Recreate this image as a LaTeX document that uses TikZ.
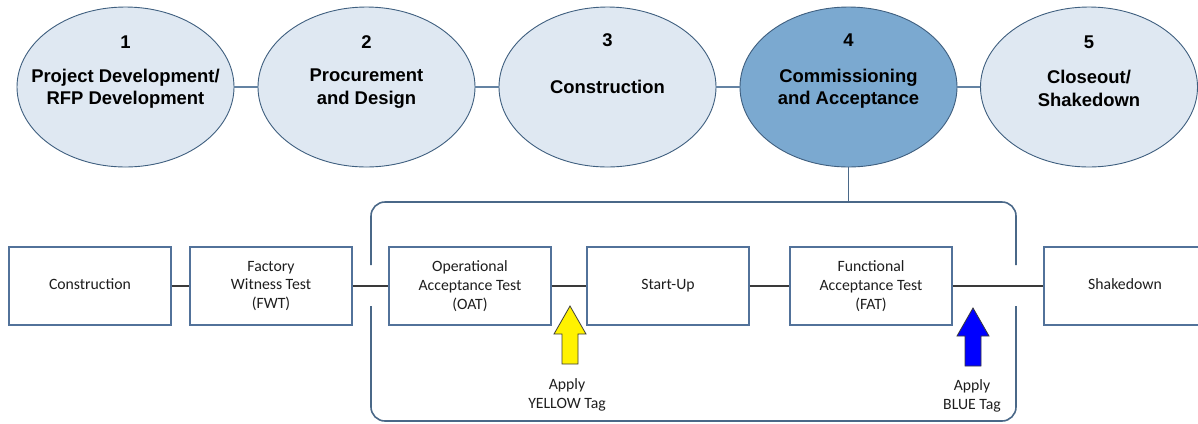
\documentclass[tikz,border=0pt]{standalone}
\usepackage{fontspec}
\setmainfont{Liberation Sans}
\newfontfamily\boxfont{Carlito}
\usetikzlibrary{shapes.geometric}

\definecolor{phasefill}{HTML}{DFE8F2}
\definecolor{activefill}{HTML}{7BA9D0}
\definecolor{phaseedge}{HTML}{3F5F7F}
\definecolor{phaselink}{HTML}{6483A3}
\definecolor{boxedge}{HTML}{52729A}
\definecolor{framecol}{HTML}{4A6888}
\definecolor{linkcol}{HTML}{3A3A3A}
\definecolor{boxtext}{HTML}{1E1E1E}

\tikzset{
  phase/.style={ellipse, draw=phaseedge, line width=0.9bp, fill=phasefill,
                minimum width=217bp, minimum height=160bp, inner sep=0pt},
  active/.style={phase, fill=activefill},
  phasenum/.style={font=\fontsize{18.5}{22}\selectfont\bfseries, inner sep=0pt},
  phasetitle/.style={font=\fontsize{18.5}{22.5}\selectfont\bfseries, align=center, inner sep=0pt},
  phaselinkline/.style={draw=phaselink, line width=2.4bp},
  stage/.style={rectangle, draw=boxedge, line width=1.1bp, fill=white,
                minimum width=162bp, minimum height=78bp, inner sep=0pt,
                align=center, text=boxtext, font=\boxfont\fontsize{15.8}{19}\selectfont},
  stagelink/.style={draw=linkcol, line width=1.3bp},
  frameline/.style={draw=framecol, line width=1.6bp, rounded corners=14bp},
  tagarrow/.style={draw=linkcol, line width=0.8bp},
  taglabel/.style={align=center, inner sep=0pt, text=boxtext,
                   font=\boxfont\fontsize{15.8}{18.5}\selectfont}
}

\begin{document}
\begin{tikzpicture}[x=1bp, y=-1bp]
  \useasboundingbox (0,0) rectangle (1198,423);
  \clip (0,0) rectangle (1198,423);

  % project phases
  \node[phase]  (e1) at (125.5,87) {};
  \node[phase]  (e2) at (366.5,87) {};
  \node[phase]  (e3) at (607.5,87) {};
  \node[active] (e4) at (848.5,87) {};
  \node[phase]  (e5) at (1089,87) {};

  \draw[phaselinkline] (e1) -- (e2);
  \draw[phaselinkline] (e2) -- (e3);
  \draw[phaselinkline] (e3) -- (e4);
  \draw[phaselinkline] (e4) -- (e5);

  \node[phasenum] (n1) at (125.5,42) {1};
  \node[phasenum] (n2) at (366.5,42) {2};
  \node[phasenum] (n3) at (607.5,40) {3};
  \node[phasenum] (n4) at (848.5,40) {4};
  \node[phasenum] (n5) at (1089,42) {5};

  \node[phasetitle] (t1) at (125.5,88.5) {Project Development/\\RFP Development};
  \node[phasetitle] (t2) at (366.5,88.5) {Procurement\\and Design};
  \node[phasetitle] (t3) at (607.5,87) {Construction};
  \node[phasetitle] (t4) at (848.5,88.5) {Commissioning\\and Acceptance};
  \node[phasetitle] (t5) at (1089,88.5) {Closeout/\\Shakedown};

  % commissioning frame, open where the stage line passes through
  \coordinate (ftl) at (371,202);
  \coordinate (ftr) at (1016,202);
  \coordinate (fbl) at (371,421);
  \coordinate (fbr) at (1016,421);
  \draw[frameline] (371,265) -- (ftl) -- (ftr) -- (1016,265);
  \draw[frameline] (371,306) -- (fbl) -- (fbr) -- (1016,306);
  \draw[draw=framecol, line width=1.6bp] (e4.south) -- (e4.south |- ftl);

  % stages
  \node[stage] (c)   at (90,286)   {\raisebox{3bp}{Construction}};
  \node[stage] (fwt) at (271,286)  {Factory\\Witness Test\\(FWT)};
  \node[stage] (oat) at (470,286)  {Operational\\Acceptance Test\\(OAT)};
  \node[stage] (su)  at (668,286)  {Start-Up};
  \node[stage] (fat) at (871,286)  {Functional\\Acceptance Test\\(FAT)};
  \node[stage] (sd)  at (1125,286) {\raisebox{3bp}{Shakedown}};

  \draw[stagelink] (c) -- (fwt);
  \draw[stagelink] (fwt) -- (oat);
  \draw[stagelink] (oat) -- (su);
  \draw[stagelink] (su) -- (fat);
  \draw[stagelink] (fat) -- (sd);

  % tag arrows
  \draw[tagarrow, fill=yellow] (570,306) -- (586,334) -- (578,334) -- (578,364)
        -- (562,364) -- (562,334) -- (554,334) -- cycle;
  \draw[tagarrow, fill=blue] (973,308) -- (989,336) -- (981,336) -- (981,366)
        -- (965,366) -- (965,336) -- (957,336) -- cycle;

  \node[taglabel] (ty) at (567,395) {Apply\\YELLOW Tag};
  \node[taglabel] (tb) at (972,396) {Apply\\BLUE Tag};
\end{tikzpicture}
\end{document}
